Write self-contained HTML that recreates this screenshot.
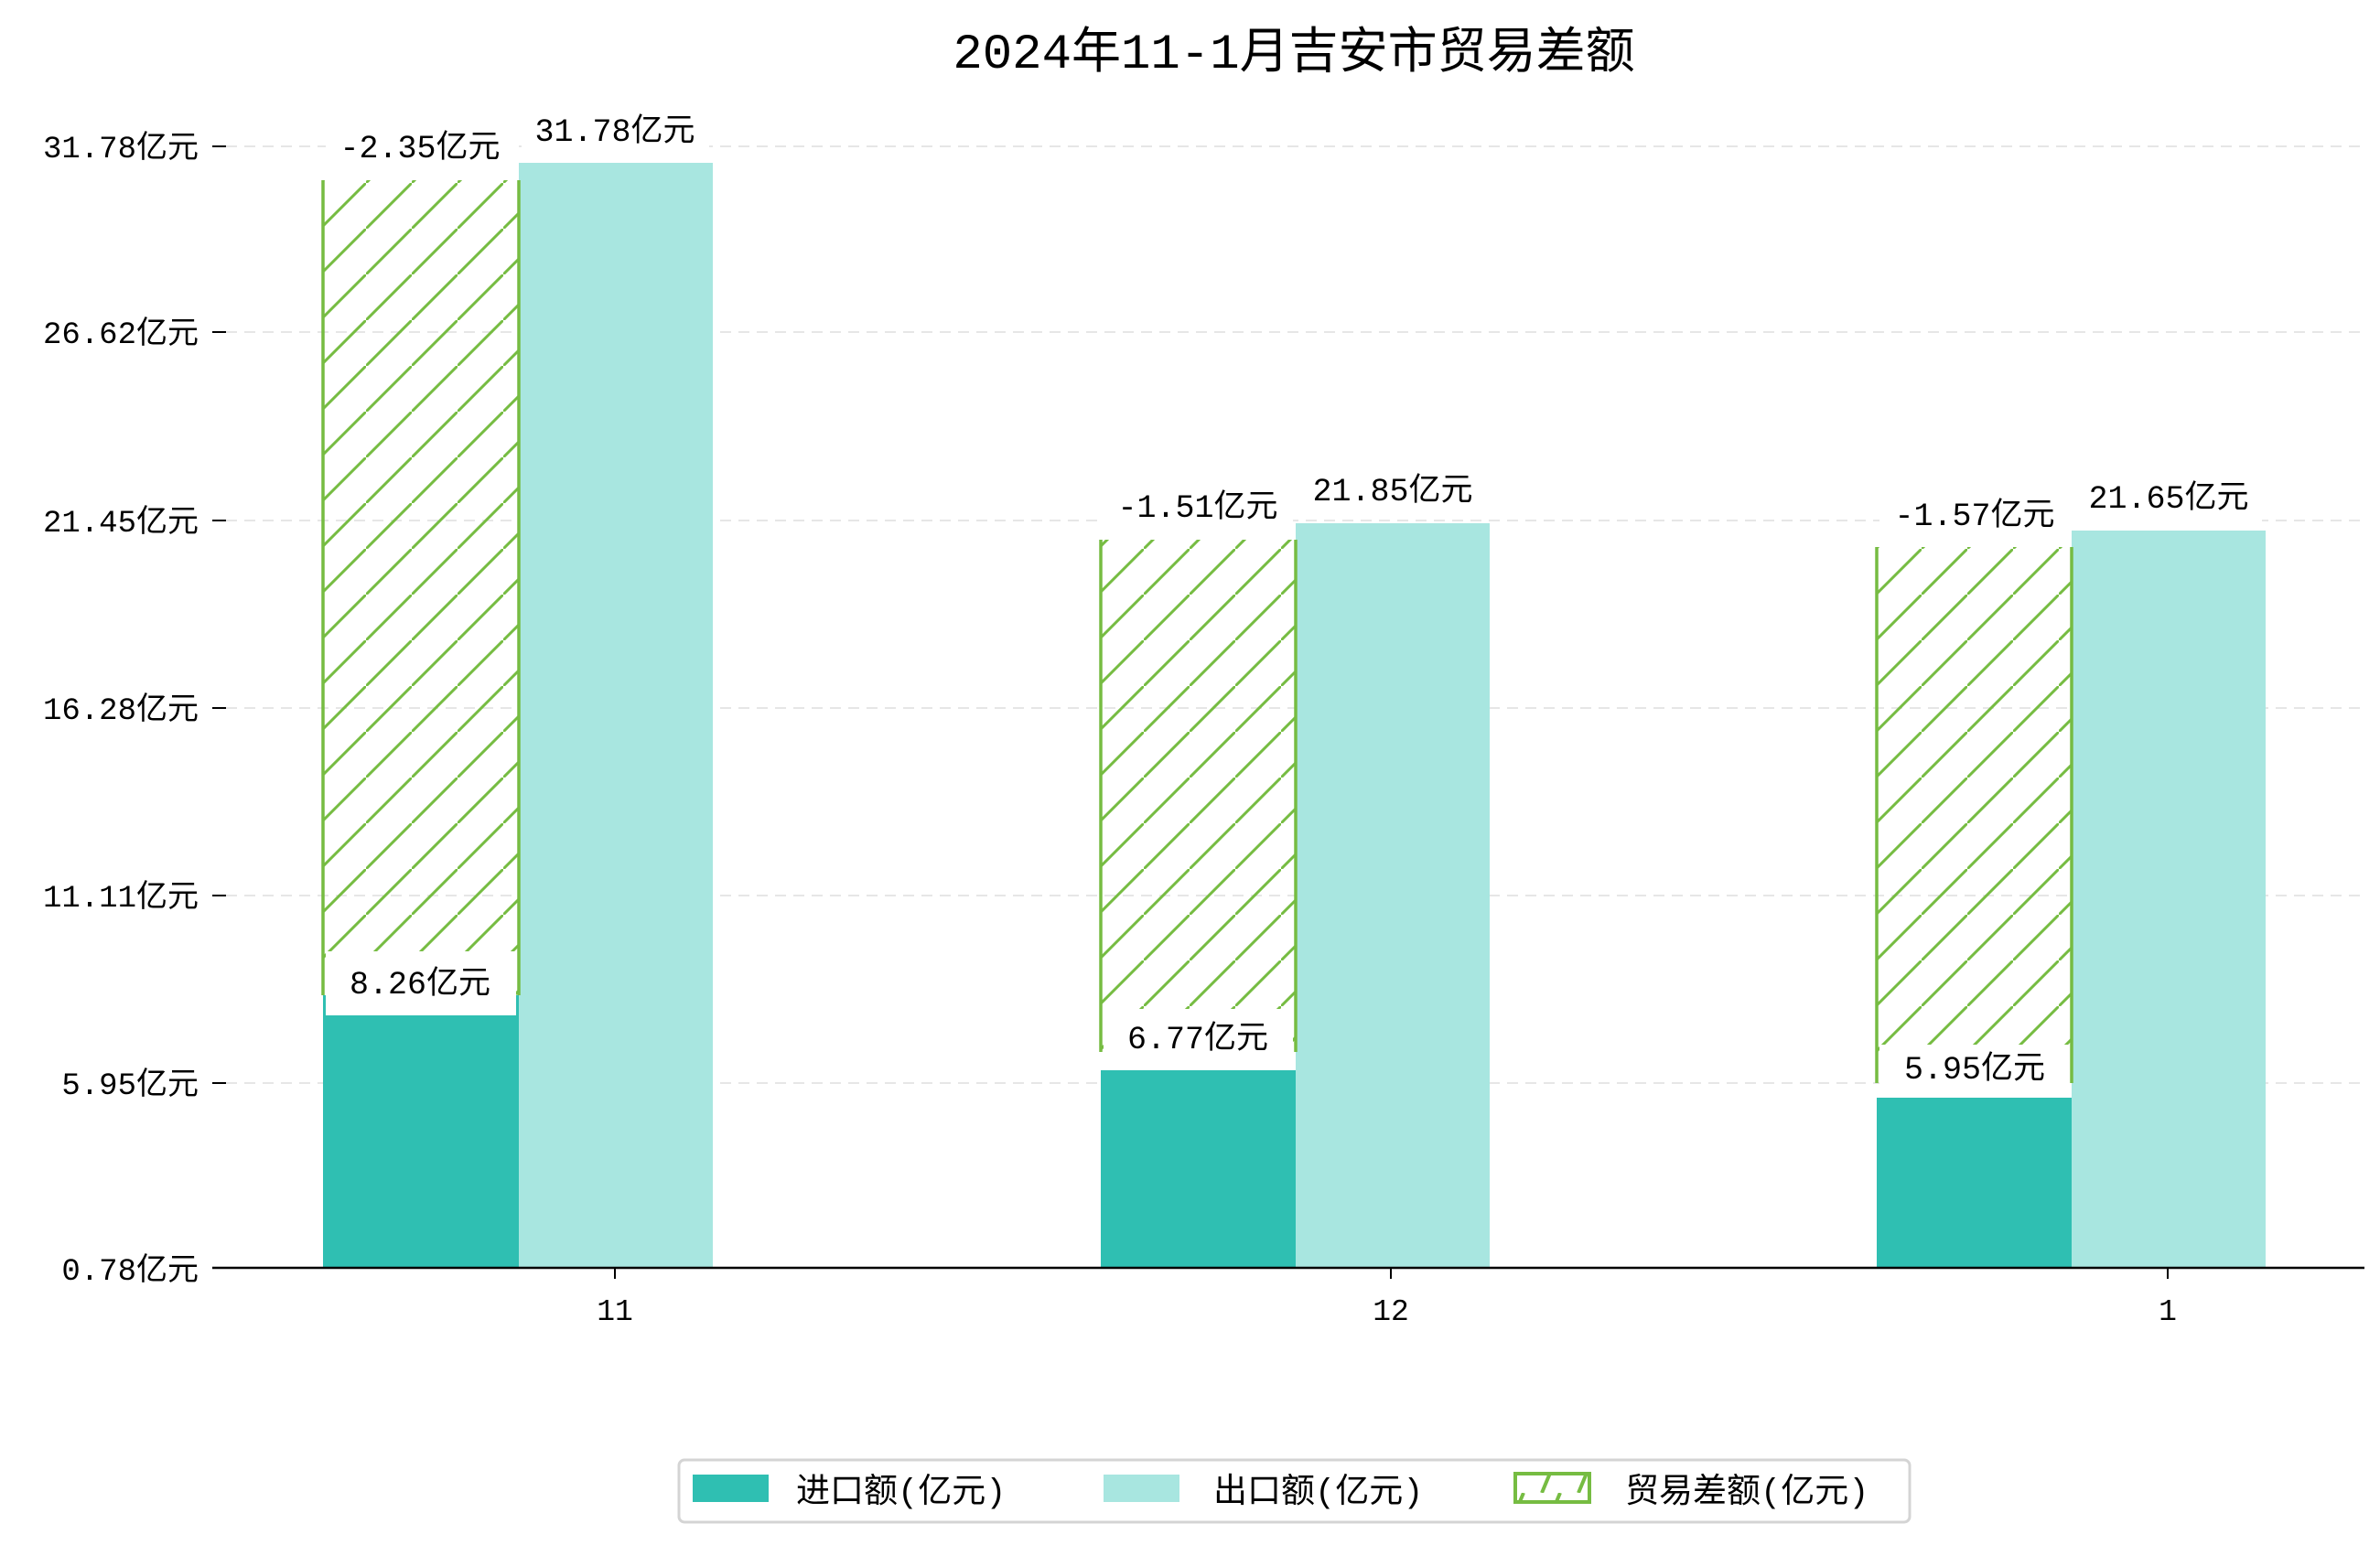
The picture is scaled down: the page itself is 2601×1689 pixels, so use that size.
<!DOCTYPE html>
<html><head><meta charset="utf-8"><style>
html,body{margin:0;padding:0;background:#fff;}
svg{display:block;}
text{font-family:"Liberation Mono","Noto Sans CJK SC",monospace;fill:#000;}
</style></head><body>
<svg width="2601" height="1689" viewBox="0 0 2601 1689" xmlns="http://www.w3.org/2000/svg">
<defs>
<pattern id="h" patternUnits="userSpaceOnUse" width="50" height="50">
<line x1="-5" y1="55" x2="55" y2="-5" stroke="#76bc42" stroke-width="3"/>
</pattern>
<pattern id="h2" patternUnits="userSpaceOnUse" width="40" height="48">
<line x1="5" y1="48" x2="25" y2="0" stroke="#76bc42" stroke-width="4"/>
</pattern>
</defs>
<text x="1414" y="74" font-size="54" text-anchor="middle">2024年11-1月吉安市贸易差额</text>
<g stroke="#e6e6e6" stroke-width="2" stroke-dasharray="12,8">
<line x1="247" y1="160" x2="2584" y2="160"/><line x1="247" y1="363" x2="2584" y2="363"/>
<line x1="247" y1="569" x2="2584" y2="569"/><line x1="247" y1="774" x2="2584" y2="774"/>
<line x1="247" y1="979" x2="2584" y2="979"/><line x1="247" y1="1184" x2="2584" y2="1184"/>
</g>
<g stroke="#000" stroke-width="2">
<line x1="232" y1="160" x2="247" y2="160"/><line x1="232" y1="363" x2="247" y2="363"/>
<line x1="232" y1="569" x2="247" y2="569"/><line x1="232" y1="774" x2="247" y2="774"/>
<line x1="232" y1="979" x2="247" y2="979"/><line x1="232" y1="1184" x2="247" y2="1184"/>
</g>
<g font-size="34" text-anchor="end">
<text x="217" y="172">31.78亿元</text><text x="217" y="375">26.62亿元</text>
<text x="217" y="581">21.45亿元</text><text x="217" y="786">16.28亿元</text>
<text x="217" y="991">11.11亿元</text><text x="217" y="1196">5.95亿元</text>
<text x="217" y="1399">0.78亿元</text>
</g>
<!-- group 11 -->
<rect x="353" y="1088" width="214" height="297" fill="#2fbfb2"/>
<rect x="567" y="178" width="212" height="1207" fill="#a8e6e0"/>
<rect x="353" y="197" width="214" height="891" fill="url(#h)"/>
<g stroke="#76bc42" stroke-width="3.5"><line x1="353" y1="197" x2="353" y2="1088"/><line x1="567" y1="197" x2="567" y2="1088"/></g>
<!-- group 12 -->
<rect x="1203" y="1170" width="213" height="215" fill="#2fbfb2"/>
<rect x="1416" y="572" width="212" height="813" fill="#a8e6e0"/>
<rect x="1203" y="590" width="213" height="560" fill="url(#h)"/>
<g stroke="#76bc42" stroke-width="3.5"><line x1="1203" y1="590" x2="1203" y2="1150"/><line x1="1416" y1="590" x2="1416" y2="1150"/></g>
<!-- group 1 -->
<rect x="2051" y="1200" width="213" height="185" fill="#2fbfb2"/>
<rect x="2264" y="580" width="212" height="805" fill="#a8e6e0"/>
<rect x="2051" y="598" width="213" height="586" fill="url(#h)"/>
<g stroke="#76bc42" stroke-width="3.5"><line x1="2051" y1="598" x2="2051" y2="1184"/><line x1="2264" y1="598" x2="2264" y2="1184"/></g>
<!-- label boxes -->
<g fill="#fff">
<rect x="356" y="132" width="207" height="62"/>
<rect x="570" y="110" width="205" height="60"/>
<rect x="356" y="1040" width="208" height="70"/>
<rect x="1206" y="524" width="207" height="62"/>
<rect x="1419" y="505" width="205" height="62"/>
<rect x="1206" y="1103" width="207" height="67"/>
<rect x="2054" y="533" width="207" height="62"/>
<rect x="2267" y="514" width="205" height="62"/>
<rect x="2054" y="1142" width="207" height="58"/>
</g>
<g font-size="35" text-anchor="middle">
<text x="459" y="172">-2.35亿元</text><text x="672" y="154">31.78亿元</text>
<text x="459" y="1086">8.26亿元</text>
<text x="1309" y="565">-1.51亿元</text><text x="1522" y="547">21.85亿元</text>
<text x="1309" y="1146">6.77亿元</text>
<text x="2158" y="574">-1.57亿元</text><text x="2370" y="555">21.65亿元</text>
<text x="2158" y="1179">5.95亿元</text>
</g>
<line x1="232" y1="1386" x2="2584" y2="1386" stroke="#000" stroke-width="2.5"/>
<g stroke="#000" stroke-width="2">
<line x1="672" y1="1386" x2="672" y2="1398"/><line x1="1520" y1="1386" x2="1520" y2="1398"/><line x1="2369" y1="1386" x2="2369" y2="1398"/>
</g>
<g font-size="33" text-anchor="middle">
<text x="672" y="1443">11</text><text x="1520" y="1443">12</text><text x="2369" y="1443">1</text>
</g>
<rect x="742" y="1596" width="1345" height="68" rx="6" fill="#fff" stroke="#d4d4d4" stroke-width="3"/>
<rect x="757" y="1612" width="83" height="30" fill="#2fbfb2"/>
<rect x="1206" y="1612" width="83" height="30" fill="#a8e6e0"/>
<rect x="1656" y="1611" width="81" height="31" fill="url(#h2)" stroke="#76bc42" stroke-width="4"/>
<g font-size="37">
<text x="870" y="1642">进口额(亿元)</text>
<text x="1326" y="1642">出口额(亿元)</text>
<text x="1776" y="1642">贸易差额(亿元)</text>
</g>
</svg>
</body></html>
